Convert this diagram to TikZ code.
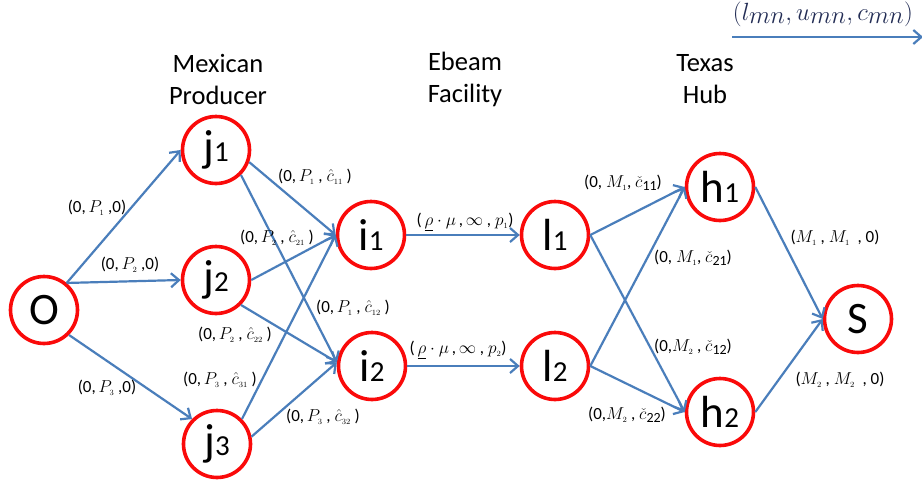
\documentclass[tikz,border=0pt]{standalone}
\usepackage{fontspec}
\setmainfont{Carlito}
\usetikzlibrary{arrows.meta}
\definecolor{edgeblue}{RGB}{74,126,187}
\definecolor{nodered}{RGB}{250,10,10}
\definecolor{legendtxt}{RGB}{35,45,85}
\newcommand\nlab[2]{\fontsize{45}{45}\selectfont #1{\fontsize{29}{29}\selectfont #2}}
\newcommand\Pv[1]{$P_{\scriptscriptstyle #1}$}
\newcommand\Mv[1]{$M_{\scriptscriptstyle #1}$}
\newcommand\chat[1]{$\hat{c}_{\scriptscriptstyle #1}$}
\newcommand\ccheck[1]{$\check{c}$\raisebox{-0.35ex}{\fontsize{14}{14}\selectfont #1}}
\tikzset{
  netnode/.style={circle, draw=nodered, line width=3.6pt, minimum size=67pt, inner sep=0pt, fill=white},
  flow/.style={draw=edgeblue, line width=2.2pt, -{Straight Barb[length=8pt,width=14pt,line width=2.2pt]}},
  elab/.style={font=\fontsize{17}{17}\selectfont, inner sep=0pt},
  header/.style={font=\fontsize{26.5}{32}\selectfont, align=center, inner sep=0pt}
}
\begin{document}
\begin{tikzpicture}[x=1pt,y=-1pt]
\clip (0,0) rectangle (922,482);
\fill[white] (0,0) rectangle (922,482);
% headers
\node[header] (hm) at (218,79) {Mexican\\Producer};
\node[header] (he) at (465,79) {Ebeam\\Facility};
\node[header] (ht) at (705,79) {Texas\\Hub};
% nodes
\node[netnode] (O)  at (44,310)  {\fontsize{45}{45}\selectfont O};
\node[netnode] (j1) at (216,150) {\nlab{j}{1}};
\node[netnode] (j2) at (216,280) {\nlab{j}{2}};
\node[netnode] (j3) at (217,444) {\nlab{j}{3}};
\node[netnode] (i1) at (371,235) {\nlab{i}{1}};
\node[netnode] (i2) at (372,366) {\nlab{i}{2}};
\node[netnode] (l1) at (555,235) {\nlab{l}{1}};
\node[netnode] (l2) at (555,366) {\nlab{l}{2}};
\node[netnode] (h1) at (720,187) {\nlab{h}{1}};
\node[netnode] (h2) at (720,412) {\nlab{h}{2}};
\node[netnode] (S)  at (858,319) {\fontsize{45}{45}\selectfont S};
% edges
\draw[flow] (O.50) -- (j1.west);
\draw[flow] (O.50) -- (j2.west);
\draw[flow] (O.-45) -- (j3.135);
\draw[flow] (j1.-20) -- (i1.west);
\draw[flow] (j1.-45) -- (i2.174);
\draw[flow] (j2.east) -- (i1.west);
\draw[flow] (j2.-45) -- (i2.174);
\draw[flow] (j3.45) -- (i1.west);
\draw[flow] (j3.12) -- (i2.174);
\draw[flow] (i1.east) -- (l1.west);
\draw[flow] (i2.east) -- (l2.west);
\draw[flow] (l1.east) -- (h1.west);
\draw[flow] (l1.east) -- (h2.west);
\draw[flow] (l2.east) -- (h1.west);
\draw[flow] (l2.east) -- (h2.west);
\draw[flow] (h1.east) -- (S.west);
\draw[flow] (h2.east) -- (S.west);
% legend
\coordinate (lg1) at (732,37);
\coordinate (lg2) at (923,37);
\draw[flow] (lg1) -- (lg2);
\node[inner sep=0pt, text=legendtxt, font=\fontsize{35}{35}\selectfont] (lgl) at (823,14) {$(l_{mn},u_{mn},c_{mn})$};
% edge labels
\node[elab] (a1) at (97,208) {(0,\,\Pv1\ ,0)};
\node[elab] (a2) at (130,265) {(0,\,\Pv2\ ,0)};
\node[elab] (a3) at (107,388) {(0,\,\Pv3\ ,0)};
\node[elab] (b11) at (315,177) {(0,\,\Pv1\ ,\ \chat{11}\ )};
\node[elab] (b21) at (277,238) {(0,\,\Pv2\ ,\ \chat{21}\ )};
\node[elab] (b12) at (353,308) {(0,\,\Pv1\ ,\ \chat{12}\ )};
\node[elab] (b22) at (235,335) {(0,\,\Pv2\ ,\ \chat{22}\ )};
\node[elab] (b31) at (220,380) {(0,\,\Pv3\ ,\ \chat{31}\ )};
\node[elab] (b32) at (323,417) {(0,\,\Pv3\ ,\ \chat{32}\ )};
\node[elab] (c1) at (465,222) {(\,$\underline{\rho}\cdot\mu$\,,\,$\infty$\ ,\ $p_{\scriptscriptstyle 1}$)};
\node[elab] (c2) at (458,350) {(\,$\underline{\rho}\cdot\mu$\,,\,$\infty$\ ,\ $p_{\scriptscriptstyle 2}$)};
\node[elab] (d11) at (623,183) {(0,\ \Mv1,\ \ccheck{11})};
\node[elab] (d21) at (693,258) {(0,\ \Mv1,\ \ccheck{21})};
\node[elab] (d12) at (693,347) {(0,\Mv2\ ,\ \ccheck{12})};
\node[elab] (d22) at (627,415) {(0,\Mv2\ ,\ \ccheck{22})};
\node[elab] (e1) at (835,238) {(\Mv1\ ,\ \Mv1\ \ ,\ 0)};
\node[elab] (e2) at (840,380) {(\Mv2\ ,\ \Mv2\ \ ,\ 0)};
\end{tikzpicture}
\end{document}
